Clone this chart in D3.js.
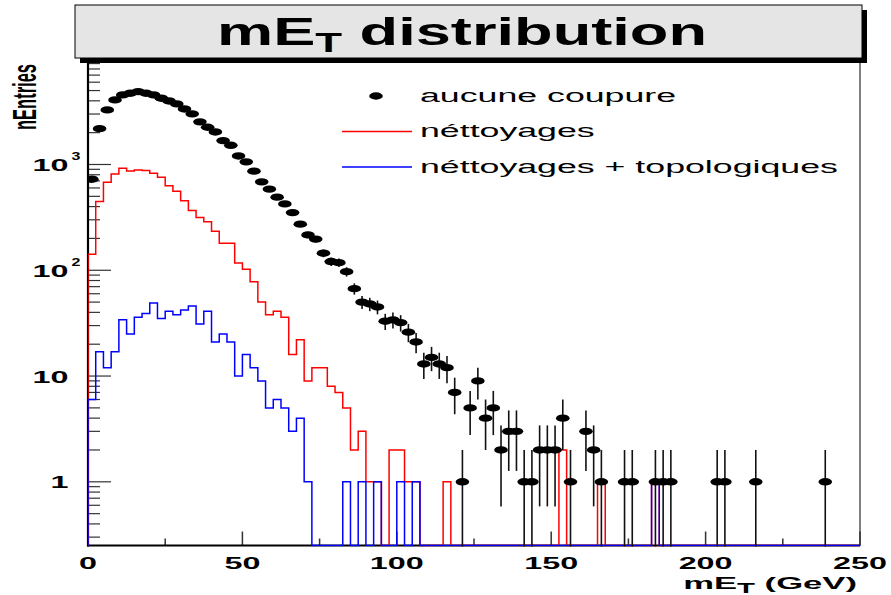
<!DOCTYPE html>
<html><head><meta charset="utf-8">
<script src="https://cdn.jsdelivr.net/npm/d3@7"></script>
<style>body{margin:0;background:#fff} svg{display:block}</style>
</head><body>
<script>
// ---------- data ----------
const xRange = [0, 250];
const nBins = 100;
const aucune = [726,2183,3282,4080,4550,4720,4890,4720,4550,4235,3990,3740,3350,3010,2530,2250,2030,1683,1520,1205,
  1059,865,685,585,491,424,351,273,216,197,145,121,118,97,67,50,48,45,33,34,
  32,26,21,13,15,13,12,7,1,5,9,4,5,2,3,3,1,1,2,2,
  2,4,1,0,3,2,1,0,0,1,1,0,0,1,1,1,0,0,0,0,
  0,1,1,0,0,0,1,0,0,0,0,0,0,0,0,1,0,0,0,0];
const nettoyages = [142,446,680,815,922,870,889,877,828,759,628,560,453,367,315,287,234,180,180,117,
  102,78,50,38,41,36,16,22,9,12,12,8,7,5,2,3,1,1,0,2,
  2,1,1,0,0,0,1,0,0,0,0,0,0,0,0,0,0,0,0,0,
  0,2,0,0,0,0,1,0,0,0,0,0,0,1,0,0,0,0,0,0,
  0,0,0,0,0,0,0,0,0,0,0,0,0,0,0,0,0,0,0,0];
const topologiques = [6,17,12,17,34,25,36,39,49,35,41,38,42,46,31,41,21,25,21,10,
  16,12,9,5,6,5,3,4,1,0,0,0,0,1,0,1,0,1,0,0,
  1,0,1,0,0,0,0,0,0,0,0,0,0,0,0,0,0,0,0,0,
  0,0,0,0,0,0,0,0,0,0,0,0,0,1,0,0,0,0,0,0,
  0,0,0,0,0,0,0,0,0,0,0,0,0,0,0,0,0,0,0,0];
const xMajorTicks = [0,50,100,150,200,250];
const xMinorTicks = [25,75,125,175,225];
const yLabels = [{v:1,base:"1",sup:""},{v:10,base:"10",sup:""},{v:100,base:"10",sup:"2"},{v:1000,base:"10",sup:"3"}];
const legendLabels = ["aucune coupure", "néttoyages", "néttoyages + topologiques"];
const legendTypes = ["marker", "line", "line"];
const seriesColors = ["#000000", "#ff0000", "#0000ff"];
const titleMain = "mE", titleSub = "T", titleRest = " distribution";
const xTitleMain = "mE", xTitleSub = "T", xTitleRest = " (GeV)";
const yTitle = "nEntries";

// ---------- layout ----------
const W = 891, H = 595;
const L = 88, R = 860, T = 62.3, B = 545.5;
const yMin = 0.25, yMax = 9250;
const FONT = "'Liberation Sans', Arial, Helvetica, sans-serif";

const svg = d3.select("body").append("svg").attr("width", W).attr("height", H);
svg.append("rect").attr("width", W).attr("height", H).attr("fill", "#fff");

const x = d3.scaleLinear().domain(xRange).range([L, R]);
const y = d3.scaleLog().domain([yMin, yMax]).range([B, T]);
const bw = (xRange[1]-xRange[0]) / nBins;
const yv = v => v > 0 ? y(v) : B;

// ---------- title box ----------
svg.append("rect").attr("x", 80).attr("y", 10).attr("width", 787).attr("height", 53).attr("fill", "#000");
svg.append("rect").attr("x", 75).attr("y", 5).attr("width", 787).attr("height", 53)
  .attr("fill", "#e5e5e5").attr("stroke", "#000").attr("stroke-width", 1);
const tg = svg.append("g").attr("transform", "translate(462,45) scale(1.62,1)");
const tt = tg.append("text").attr("text-anchor", "middle").attr("font-family", FONT)
  .attr("font-weight", "bold").attr("font-size", 39).attr("fill", "#000");
tt.append("tspan").text(titleMain);
tt.append("tspan").attr("font-size", 27).attr("dy", 7).text(titleSub);
tt.append("tspan").attr("dy", -7).text(titleRest);

// ---------- frame ----------
svg.append("rect").attr("x", L).attr("y", T).attr("width", R-L).attr("height", B-T)
  .attr("fill", "none").attr("stroke", "#000").attr("stroke-width", 1);

// y ticks
const yTickVals = [];
for (let d = 0.1; d < yMax; d *= 10) for (let k = 1; k < 10; k++) {
  const v = +(d*k).toPrecision(3);
  if (v >= yMin && v <= yMax) yTickVals.push({v, major: k === 1});
}
svg.append("g").selectAll("line").data(yTickVals).join("line")
  .attr("x1", L).attr("x2", d => L + (d.major ? 23 : 12))
  .attr("y1", d => y(d.v)).attr("y2", d => y(d.v))
  .attr("stroke", "#333").attr("stroke-width", 1.2);

// x ticks
svg.append("g").selectAll("line").data(xMajorTicks.map(v=>({v,len:14})).concat(xMinorTicks.map(v=>({v,len:7})))).join("line")
  .attr("x1", d => x(d.v)).attr("x2", d => x(d.v))
  .attr("y1", B).attr("y2", d => B - d.len)
  .attr("stroke", "#333").attr("stroke-width", 1.5);

// axes lines
svg.append("line").attr("x1", L).attr("x2", L).attr("y1", T).attr("y2", B+1).attr("stroke", "#000").attr("stroke-width", 2.2);
svg.append("line").attr("x1", L-1).attr("x2", R).attr("y1", B).attr("y2", B).attr("stroke", "#000").attr("stroke-width", 2.2);

// x labels
xMajorTicks.forEach(v => {
  svg.append("g").attr("transform", `translate(${x(v)},568.5) scale(1.96,1)`)
    .append("text").attr("text-anchor", "middle").attr("font-family", FONT).attr("font-weight", "bold")
    .attr("font-size", 16.5).text(v);
});
// y labels
yLabels.forEach(d => {
  svg.append("g").attr("transform", `translate(68.5,${y(d.v)+6.5}) scale(1.96,1)`)
    .append("text").attr("text-anchor", "end").attr("font-family", FONT).attr("font-weight", "bold")
    .attr("font-size", 16.5).text(d.base);
  if (d.sup) svg.append("g").attr("transform", `translate(71.5,${y(d.v)-4.3}) scale(1.6,1)`)
    .append("text").attr("font-family", FONT).attr("font-weight", "bold")
    .attr("font-size", 10).text(d.sup);
});
// axis titles
const xg = svg.append("g").attr("transform", "translate(857,589) scale(2.1,1)");
const xt = xg.append("text").attr("text-anchor", "end").attr("font-family", FONT).attr("font-weight", "bold").attr("font-size", 16.5);
xt.append("tspan").text(xTitleMain);
xt.append("tspan").attr("font-size", 14).attr("dy", 4).text(xTitleSub);
xt.append("tspan").attr("dy", -4).text(xTitleRest);

svg.append("g").attr("transform", "translate(36,64) rotate(-90) scale(1,2)")
  .append("text").attr("text-anchor", "end").attr("font-family", FONT).attr("font-weight", "bold")
  .attr("font-size", 16.5).text(yTitle);

// ---------- histograms ----------
svg.append("clipPath").attr("id", "clip").append("rect")
  .attr("x", L).attr("y", T).attr("width", R-L).attr("height", B-T+1);
const plot = svg.append("g").attr("clip-path", "url(#clip)");

function stepPath(vals) {
  let p = `M${x(xRange[0])},${B}`;
  vals.forEach((v, i) => {
    const x0 = x(xRange[0] + i*bw), x1 = x(xRange[0] + (i+1)*bw);
    p += `L${x0},${yv(v)}L${x1},${yv(v)}`;
  });
  p += `L${x(xRange[1])},${B}`;
  return p;
}
plot.append("path").attr("d", stepPath(nettoyages)).attr("fill", "none").attr("stroke", seriesColors[1]).attr("stroke-width", 1.5);
plot.append("path").attr("d", stepPath(topologiques)).attr("fill", "none").attr("stroke", seriesColors[2]).attr("stroke-width", 1.5);

// data points with errors
const pts = aucune.map((v, i) => ({v, c: xRange[0] + (i+0.5)*bw})).filter(d => d.v > 0);
plot.append("g").selectAll("line").data(pts).join("line")
  .attr("x1", d => x(d.c)).attr("x2", d => x(d.c))
  .attr("y1", d => y(d.v + Math.sqrt(d.v)))
  .attr("y2", d => (d.v - Math.sqrt(d.v)) > 0 ? y(d.v - Math.sqrt(d.v)) : B+2)
  .attr("stroke", "#111").attr("stroke-width", 1.6);
plot.append("g").selectAll("ellipse").data(pts).join("ellipse")
  .attr("cx", d => x(d.c)).attr("cy", d => y(d.v)).attr("rx", 6.8).attr("ry", 3.7).attr("fill", seriesColors[0]);

// ---------- legend ----------
const lg = svg.append("g");
legendLabels.forEach((label, i) => {
  const cy = 96 + i*35.5;
  if (legendTypes[i] === "marker") {
    lg.append("ellipse").attr("cx", 376).attr("cy", cy).attr("rx", 6.8).attr("ry", 3.7).attr("fill", seriesColors[i]);
  } else {
    lg.append("path").attr("d", `M342,${cy}H412`).attr("fill", "none")
      .attr("stroke", seriesColors[i]).attr("stroke-width", 1.5);
  }
  lg.append("g").attr("transform", `translate(420,${cy+5.5}) scale(1.88,1)`)
    .append("text").attr("font-family", FONT).attr("font-size", 19).attr("fill", "#000").text(label);
});
</script>
</body></html>
